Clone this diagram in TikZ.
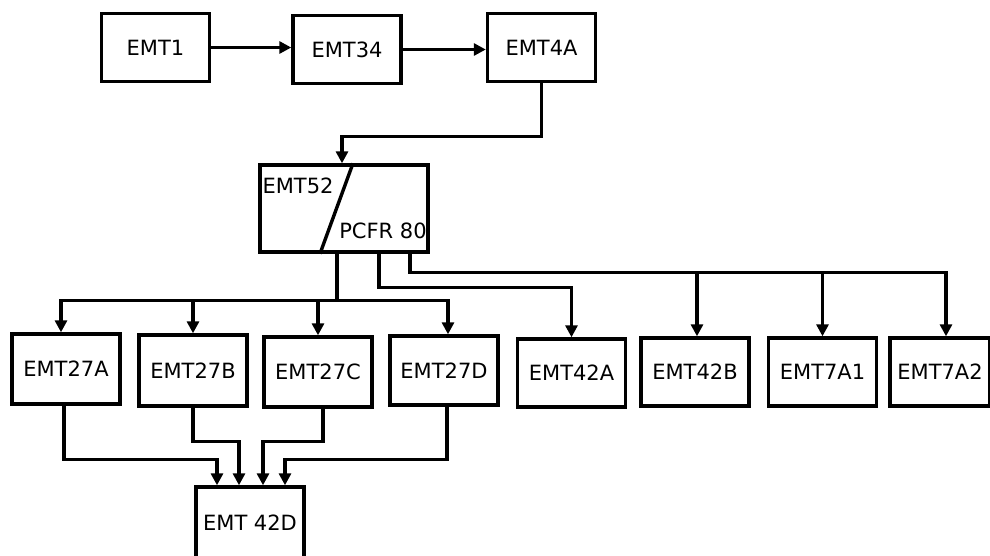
\documentclass[tikz,border=0pt]{standalone}
\usepackage{fontspec}
\setmainfont{DejaVu Sans}
\usepackage{tikz}
\usetikzlibrary{arrows.meta}

\begin{document}
\begin{tikzpicture}[
    x=1pt, y=-1pt,
    line width=3.4pt,
    box/.style={draw, line width=3.4pt, minimum width=108pt, minimum height=68pt, inner sep=0pt, align=center, font=\fontsize{21}{24}\selectfont},
    tag/.style={inner sep=0pt, font=\fontsize{21}{24}\selectfont},
    arrow/.style={-{Triangle[length=12pt,width=12pt]}, line width=3.4pt}
  ]
    \useasboundingbox (0,0) rectangle (990,555);
    % top row
    \node[box] (emt1) at (155.5,47.5) {EMT1};
    \node[box] (emt34) at (347,49.5) {EMT34};
    \node[box] (emt4a) at (541.5,47.5) {EMT4A};
    % split box
    \node[box, minimum width=168pt, minimum height=87pt] (emt52) at (344,208.5) {};
    \draw ([xshift=9pt]emt52.north) -- ([xshift=-24pt]emt52.south);
    \node[tag] (lbl52) at (298,186) {EMT52};
    \node[tag] (lblpcfr) at (383,231) {PCFR 80};
    % second row
    \node[box, minimum height=70pt] (emt27a) at (66,369) {EMT27A};
    \node[box, minimum height=71pt] (emt27b) at (193,370.5) {EMT27B};
    \node[box, minimum height=70pt] (emt27c) at (318,372) {EMT27C};
    \node[box, minimum height=69pt] (emt27d) at (444,370.5) {EMT27D};
    \node[box] (emt42a) at (571.5,373) {EMT42A};
    \node[box] (emt42b) at (695,372) {EMT42B};
    \node[box] (emt7a1) at (822.5,372) {EMT7A1};
    \node[box, minimum width=100pt] (emt7a2) at (940,372) {EMT7A2};
    % bottom
    \node[box, minimum height=72pt] (emt42d) at (250,523) {EMT 42D};

    \draw[arrow] (emt1.east) -- (emt1.east -| emt34.west);
    \draw[arrow] (emt34.east) -- (emt34.east -| emt4a.west);
    \draw[arrow] (emt4a.south) -- ++(0,53) -| ([xshift=-2pt]emt52.north);

    \draw[arrow] ([xshift=-7pt]emt52.south) -- ++(0,47) -| ([xshift=-5pt]emt27a.north);
    \draw[arrow] ([xshift=-7pt]emt52.south) -- ++(0,47) -| (emt27b.north);
    \draw[arrow] ([xshift=-7pt]emt52.south) -- ++(0,47) -| (emt27c.north);
    \draw[arrow] ([xshift=-7pt]emt52.south) -- ++(0,47) -| ([xshift=4pt]emt27d.north);
    \draw[arrow] ([xshift=35pt]emt52.south) -- ++(0,34) -| (emt42a.north);
    \draw[arrow] ([xshift=66pt]emt52.south) -- ++(0,19) -| ([xshift=2pt]emt42b.north);
    \draw[arrow] ([xshift=66pt]emt52.south) -- ++(0,19) -| (emt7a1.north);
    \draw[arrow] ([xshift=66pt]emt52.south) -- ++(0,19) -| ([xshift=6pt]emt7a2.north);

    \draw[arrow] ([xshift=-2pt]emt27a.south) -- ++(0,54) -| ([xshift=-33pt]emt42d.north);
    \draw[arrow] (emt27b.south) -- ++(0,34) -| ([xshift=-11pt]emt42d.north);
    \draw[arrow] ([xshift=5pt]emt27c.south) -- ++(0,33) -| ([xshift=13pt]emt42d.north);
    \draw[arrow] ([xshift=3pt]emt27d.south) -- ++(0,53) -| ([xshift=35pt]emt42d.north);
  \end{tikzpicture}
\end{document}
